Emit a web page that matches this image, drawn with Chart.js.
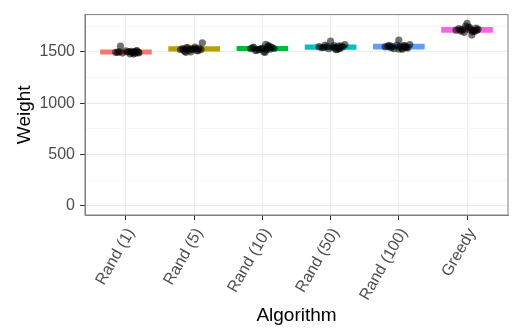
<!DOCTYPE html>
<html>
<head>
<meta charset="utf-8">
<script src="https://cdn.jsdelivr.net/npm/chart.js@4"></script>
<style>
html,body{margin:0;padding:0;background:#fff;}
#wrap{width:514px;height:329px;}
</style>
</head>
<body>
<div id="wrap"><canvas id="c" width="514" height="329"></canvas></div>
<script>
const categories = ["Rand (1)", "Rand (5)", "Rand (10)", "Rand (50)", "Rand (100)", "Greedy"];
const boxColors = ["#F8766D", "#B79F00", "#00BA38", "#00BFC4", "#619CFF", "#F564E3"];
const boxLow  = [1478, 1505, 1510, 1522, 1526, 1689];
const boxHigh = [1520, 1550, 1553, 1567, 1574, 1739];

const rand1   = [1495,1502,1488,1510,1498,1480,1505,1492,1555,1500,1485,1512,1496,1490,1503,1478,1494,1506];
const rand5   = [1520,1530,1505,1540,1515,1500,1525,1545,1587,1510,1535,1495,1522,1528,1512,1538,1518,1532];
const rand10  = [1530,1545,1512,1572,1520,1535,1500,1550,1525,1540,1495,1532,1560,1518,1528,1548,1538,1522];
const rand50  = [1550,1540,1565,1605,1530,1545,1560,1520,1555,1535,1548,1570,1525,1542,1558,1538,1552,1533];
const rand100 = [1548,1555,1540,1615,1530,1565,1552,1525,1560,1545,1538,1570,1535,1550,1558,1528,1562,1542];
const greedy  = [1710,1725,1700,1778,1690,1740,1715,1663,1705,1730,1720,1695,1750,1712,1700,1735,1722,1708];

const jit1   = [-0.15,-0.10,-0.05,0.00,0.03,0.06,0.08,0.10,-0.08,0.12,0.14,0.16,0.18,0.19,0.05,0.11,-0.12,0.15];
const jit5   = [-0.20,-0.17,-0.14,-0.11,-0.08,-0.05,-0.02,0.01,0.12,0.04,0.07,-0.12,0.10,-0.03,0.06,-0.09,-0.15,0.02];
const jit10  = [-0.17,-0.13,-0.10,0.05,-0.05,0.00,0.02,0.08,0.11,0.14,0.04,0.17,0.09,-0.08,-0.02,0.12,-0.14,0.06];
const jit50  = [-0.17,-0.13,-0.08,0.00,-0.03,0.03,0.05,0.08,0.11,0.14,0.18,0.21,0.10,-0.10,0.15,0.06,-0.05,0.12];
const jit100 = [-0.20,-0.16,-0.12,0.00,-0.07,-0.03,0.02,0.05,0.07,0.10,0.13,0.16,0.04,-0.10,0.09,0.00,-0.14,0.11];
const jitG   = [-0.16,-0.12,-0.08,0.00,-0.04,0.02,0.05,0.07,0.10,0.13,0.16,0.08,-0.02,-0.10,0.11,0.04,-0.06,0.14];

const yTickValues = [0, 250, 500, 750, 1000, 1250, 1500, 1750];

const groups = [rand1, rand5, rand10, rand50, rand100, greedy];
const jitters = [jit1, jit5, jit10, jit50, jit100, jitG];

const points = [];
groups.forEach((vals, gi) => {
  vals.forEach((v, k) => points.push({x: gi + 1 + jitters[gi][k], y: v}));
});
const boxes = categories.map((c, i) => ({x: i + 1, y: [boxLow[i], boxHigh[i]]}));

const FONT = "'Liberation Sans', Arial, sans-serif";

const borderPlugin = {
  id: 'panelBorder',
  afterDraw(chart) {
    const {ctx, chartArea: a} = chart;
    ctx.save();
    ctx.strokeStyle = '#7F7F7F';
    ctx.lineWidth = 1;
    ctx.strokeRect(a.left, a.top, a.right - a.left, a.bottom - a.top);
    ctx.restore();
  }
};

new Chart(document.getElementById('c'), {
  data: {
    datasets: [
      {
        type: 'scatter',
        data: points,
        order: 1,
        pointRadius: 3.6,
        pointHoverRadius: 3.6,
        backgroundColor: 'rgba(0,0,0,0.55)',
        borderWidth: 0
      },
      {
        type: 'bar',
        data: boxes,
        order: 2,
        backgroundColor: boxColors,
        borderColor: boxColors,
        borderWidth: 0,
        borderSkipped: false,
        barThickness: 51
      }
    ]
  },
  options: {
    responsive: false,
    animation: false,
    layout: {padding: {top: 11, right: 6, left: 0, bottom: 0}},
    plugins: {legend: {display: false}, tooltip: {enabled: false}},
    scales: {
      x: {
        type: 'linear',
        offset: false,
        min: 0.4, max: 6.6,
        afterBuildTicks(s) { s.ticks = categories.map((c, i) => ({value: i + 1})); },
        afterFit(s) { s.height = 329 - 215; },
        ticks: {
          autoSkip: false,
          minRotation: 60, maxRotation: 60,
          color: '#4D4D4D',
          font: {family: FONT, size: 16},
          padding: 5,
          labelOffset: 5,
          callback: (v) => categories[Math.round(v) - 1]
        },
        grid: {offset: false, color: '#EBEBEB', tickColor: '#333333', tickLength: 5, lineWidth: 1},
        border: {color: '#7F7F7F'},
        title: {display: true, text: 'Algorithm', color: '#000', font: {family: FONT, size: 19}, padding: {top: 0, bottom: 2}}
      },
      y: {
        type: 'linear',
        min: -88, max: 1862,
        afterBuildTicks(s) { s.ticks = yTickValues.map(v => ({value: v})); },
        afterFit(s) { s.width = 85; },
        ticks: {
          color: '#4D4D4D',
          font: {family: FONT, size: 16},
          padding: 5,
          callback: (v) => (v % 500 === 0 ? String(v) : '')
        },
        grid: {
          color: (c) => (c.tick && c.tick.value % 500 === 0 ? '#EBEBEB' : '#F5F5F5'),
          tickColor: (c) => (c.tick && c.tick.value % 500 === 0 ? '#333333' : 'rgba(0,0,0,0)'),
          tickLength: 5, lineWidth: 1
        },
        border: {color: '#7F7F7F'},
        title: {display: true, text: 'Weight', color: '#000', font: {family: FONT, size: 19}, padding: {top: 13, bottom: 0}}
      }
    }
  },
  plugins: [borderPlugin]
});
</script>
</body>
</html>
